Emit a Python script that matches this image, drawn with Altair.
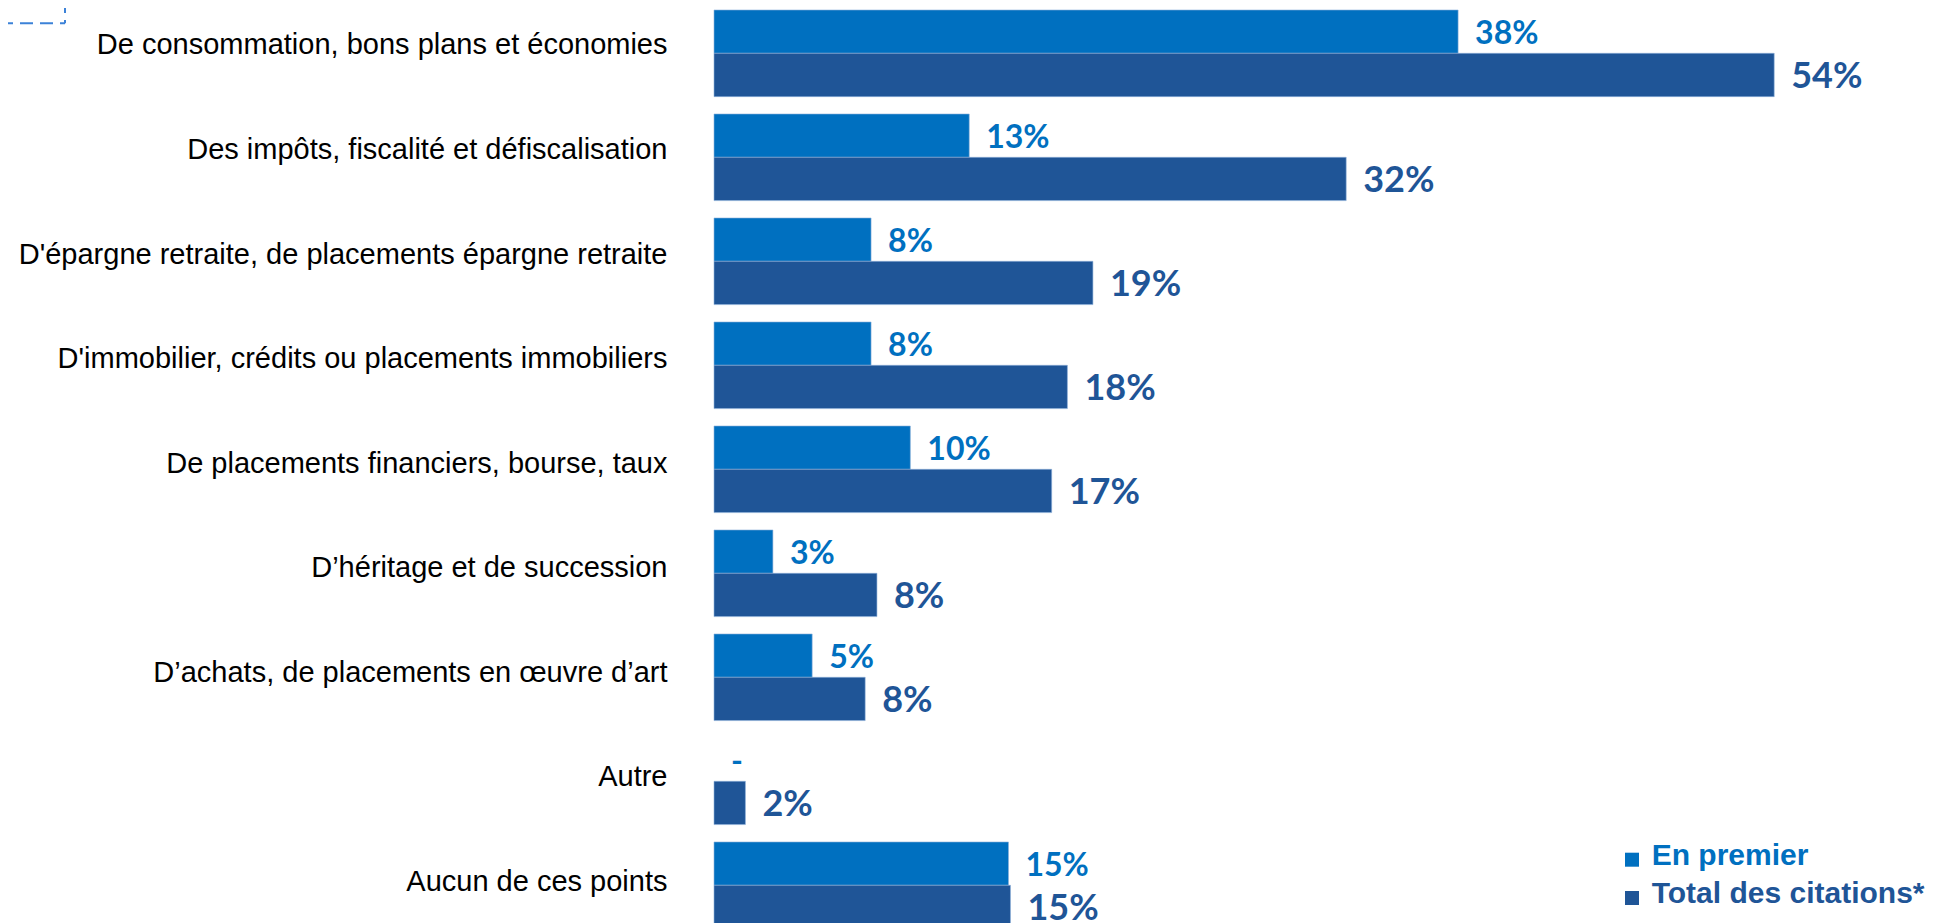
import altair as alt
import pandas as pd

categories = [
    "De consommation, bons plans et économies",
    "Des impôts, fiscalité et défiscalisation",
    "D'épargne retraite, de placements épargne retraite",
    "D'immobilier, crédits ou placements immobiliers",
    "De placements financiers, bourse, taux",
    "D’héritage et de succession",
    "D’achats, de placements en œuvre d’art",
    "Autre",
    "Aucun de ces points",
]
series = ["En premier", "Total des citations*"]
en_premier = [37.9, 13.0, 8.0, 8.0, 10.0, 3.0, 5.0, 0.0, 15.0]
total_citations = [54.0, 32.2, 19.3, 18.0, 17.2, 8.3, 7.7, 1.6, 15.1]
premier_labels = ["38%", "13%", "8%", "8%", "10%", "3%", "5%", "-", "15%"]
total_labels = ["54%", "32%", "19%", "18%", "17%", "8%", "8%", "2%", "15%"]
colors = ["#0070C0", "#1F5597"]

rows = []
for i, c in enumerate(categories):
    rows.append(dict(cat=c, serie=series[0], val=en_premier[i], lab=premier_labels[i]))
    rows.append(dict(cat=c, serie=series[1], val=total_citations[i], lab=total_labels[i]))
df = pd.DataFrame(rows)

y = alt.Y(
    "cat:N", sort=categories,
    scale=alt.Scale(range=[0, 922.6], paddingInner=0.167, paddingOuter=0.0192),
    axis=alt.Axis(title=None, ticks=False, domain=False, labelPadding=47,
                  labelFontSize=29, labelFont="Liberation Sans, Arial",
                  labelColor="#000000",
                  labelOffset=alt.ExprRef(expr="-8 + 0.6 * floor(scale('y', datum.value) / 104)"),
                  labelLimit=0),
)
yoff = alt.YOffset("serie:N", sort=series, scale=alt.Scale(paddingInner=0, paddingOuter=0))
x = alt.X("val:Q", scale=alt.Scale(domain=[0, 60], nice=False, zero=True), axis=None)
color = alt.Color("serie:N", sort=series, scale=alt.Scale(domain=series, range=colors), legend=None)

bars = alt.Chart(df).transform_filter("datum.val > 0").mark_bar(
    stroke="#8DB0DA", strokeWidth=1, strokeOpacity=0.6
).encode(y=y, yOffset=yoff, x=x, color=color)
labels = alt.Chart(df).mark_text(
    align="left", baseline="middle", dx=17, dy=2, font="Lato", fontWeight="bold"
).encode(
    y=y, yOffset=yoff, x=x, text="lab:N", color=color,
    size=alt.Size("serie:N", sort=series, scale=alt.Scale(domain=series, range=[32, 36]), legend=None),
)

one = pd.DataFrame({"k": [0]})
layers = [bars, labels]
for i, s in enumerate(series):
    layers.append(
        alt.Chart(one).mark_square(size=196, filled=True, opacity=1).encode(
            x=alt.value(918), y=alt.value(851.7 + i * 38.3), color=alt.value(colors[i])
        )
    )
    layers.append(
        alt.Chart(one).mark_text(
            align="left", baseline="alphabetic", font="Liberation Sans, Arial",
            fontWeight="bold", fontSize=30
        ).encode(
            x=alt.value(937.7), y=alt.value(857 + i * 38.3), text=alt.value(s), color=alt.value(colors[i])
        )
    )

dash_h = alt.Chart(one).mark_rule(color="#3C82D8", strokeWidth=2, strokeDash=[13, 7]).encode(
    x=alt.value(-714), x2=alt.value(-649), y=alt.value(15.3)
)
dash_v = alt.Chart(one).mark_rule(color="#3C82D8", strokeWidth=2, strokeDash=[13, 7]).encode(
    x=alt.value(-649), y=alt.value(-8), y2=alt.value(15.3)
)
layers += [dash_h, dash_v]

chart = alt.layer(*layers).properties(
    width=1178, height=915,
    padding={"left": 706, "top": 0, "right": 47, "bottom": 0},
    autosize=alt.AutoSizeParams(type="none"),
).configure_view(stroke=None)

chart.save("out.html", embed_options={"renderer": "svg", "actions": False})
